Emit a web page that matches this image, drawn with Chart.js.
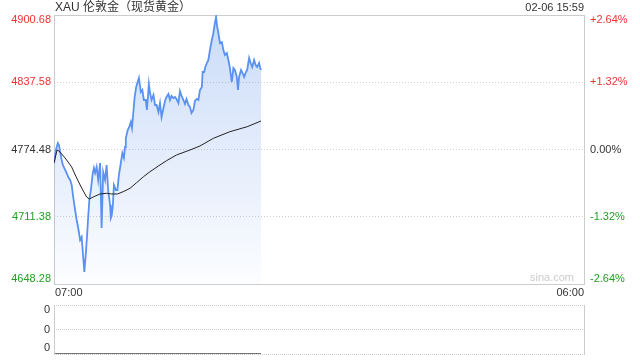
<!DOCTYPE html>
<html>
<head>
<meta charset="utf-8">
<script src="https://cdn.jsdelivr.net/npm/chart.js@4/dist/chart.umd.min.js"></script>
<style>
  html, body { margin: 0; padding: 0; background: #fff; }
  #wrap { position: relative; width: 640px; height: 360px; overflow: hidden; }
  #main { position: absolute; left: 0; top: 0; }
  #vol { position: absolute; left: 0; top: 295px; }
</style>
</head>
<body>
<div id="wrap">
  <canvas id="main" width="640" height="300"></canvas>
  <canvas id="vol" width="640" height="65"></canvas>
</div>
<script>
const TITLE = "XAU 伦敦金（现货黄金）";
const STAMP = "02-06 15:59";
const PREV_CLOSE = 4774.48;
const Y_TICKS = [4648.28, 4711.38, 4774.48, 4837.58, 4900.68];
const PCT_LABELS = ["-2.64%", "-1.32%", "0.00%", "+1.32%", "+2.64%"];
const X_LABELS = ["07:00", "06:00"];
const SESSION_MIN = 1380; // 07:00 -> 06:00 next day

// minutes after 07:00
const PRICE_MIN = [0, 5, 10, 13, 16, 20, 23, 29, 34, 37, 42, 46, 50, 55, 59, 63, 68, 72, 76, 79,
  83, 87, 89, 92, 96, 101, 104, 107, 111, 115, 120, 124, 128, 133, 137, 141, 146, 148, 150, 153,
  156, 161, 165, 169, 174, 178, 182, 185, 187, 192, 196, 200, 203, 206, 210, 214, 217, 221, 226, 230,
  234, 239, 242, 247, 250, 254, 259, 263, 267, 272, 276, 280, 285, 289, 293, 298, 302, 306, 311, 315,
  319, 324, 328, 332, 337, 341, 345, 350, 354, 358, 363, 367, 372, 376, 380, 385, 387, 391, 394, 398,
  402, 406, 411, 415, 419, 422, 425, 428, 432, 437, 441, 445, 450, 454, 458, 461, 463, 467, 471, 476,
  479, 482, 487, 491, 495, 500, 503, 508, 512, 516, 521, 525, 529, 534, 537, 539];
const PRICES = [4761.81, 4774.01, 4780.58, 4778.70, 4772.13, 4764.63, 4759.94, 4755.25, 4751.49, 4748.68,
  4745.86, 4741.17, 4729.91, 4717.71, 4708.33, 4700.82, 4689.56, 4692.38, 4673.61, 4659.54,
  4677.37, 4698.95, 4711.15, 4727.10, 4736.48, 4752.43, 4757.12, 4752.43, 4758.06, 4745.86,
  4761.81, 4700.82, 4753.37, 4745.86, 4759.94, 4736.48, 4722.41, 4710.21, 4712.08, 4720.53,
  4741.17, 4736.48, 4736.48, 4750.55, 4761.81, 4771.20, 4766.50, 4776.83, 4785.27, 4792.78,
  4795.59, 4800.28, 4794.65, 4806.85, 4823.74, 4833.12, 4836.88, 4841.57, 4828.43, 4830.31,
  4820.93, 4820.93, 4811.54, 4835.94, 4827.49, 4820.93, 4825.62, 4816.23, 4816.23, 4809.67,
  4818.11, 4804.97, 4813.42, 4819.99, 4823.74, 4826.56, 4820.93, 4824.68, 4822.80, 4823.74,
  4821.86, 4818.11, 4829.37, 4824.68, 4820.93, 4817.17, 4821.86, 4816.23, 4814.36, 4808.73,
  4811.54, 4819.99, 4821.86, 4820.93, 4830.31, 4833.12, 4847.20, 4847.20, 4851.89, 4855.64,
  4858.46, 4867.84, 4877.22, 4883.79, 4893.17, 4898.80, 4889.42, 4883.79, 4874.41, 4875.35,
  4867.84, 4863.15, 4865.02, 4858.46, 4850.95, 4842.51, 4837.81, 4850.95, 4849.07, 4842.51,
  4830.31, 4842.51, 4849.07, 4846.26, 4842.51, 4847.20, 4849.07, 4860.33, 4855.64, 4851.89,
  4858.46, 4853.77, 4851.89, 4855.64, 4850.95, 4849.07];

const AVG_MIN = [0, 8, 13, 29, 46, 59, 72, 85, 92, 102, 120, 137, 150, 165, 180, 198, 215, 233,
  250, 272, 293, 319, 354, 380, 415, 458, 503, 539];
const AVG_PRICES = [4761.81, 4774.01, 4773.07, 4766.50, 4758.06, 4747.74, 4738.36, 4729.91, 4728.03,
  4729.91, 4732.73, 4733.38, 4732.73, 4732.73, 4734.88, 4738.07, 4743.33, 4748.96, 4753.65,
  4759.00, 4763.97, 4769.32, 4774.01, 4777.76, 4784.99, 4791.18, 4795.87, 4801.22];

const VOL_MIN = [0, 539];
const VOLUMES = [0, 0];
const VOL_TICKS = [0, 1, 2];

const RED = "#ee3333";
const GREEN = "#22a022";
const FONT = "'Liberation Sans', Arial, 'Noto Sans CJK SC', sans-serif";

function toPoints(xs, ys) {
  return xs.map((m, i) => ({ x: m, y: ys[i] }));
}

// frame, axis labels and header text
const mainDecor = {
  id: "mainDecor",
  beforeDatasetsDraw(chart) {
    const { ctx, chartArea: a } = chart;
    ctx.save();
    ctx.strokeStyle = "#cccccc";
    ctx.lineWidth = 1;
    ctx.strokeRect(a.left + 0.5, a.top + 0.5, a.right - a.left, a.bottom - a.top);
    ctx.restore();
  },
  afterDraw(chart) {
    const { ctx, chartArea: a, scales } = chart;
    ctx.save();
    ctx.font = "11px " + FONT;
    ctx.textBaseline = "middle";
    Y_TICKS.forEach((v, i) => {
      let py = scales.y.getPixelForValue(v);
      if (i === Y_TICKS.length - 1) py += 5;
      if (i === 0) py -= 5;
      ctx.fillStyle = v > PREV_CLOSE ? RED : v < PREV_CLOSE ? GREEN : "#333";
      ctx.textAlign = "right";
      ctx.fillText(v.toFixed(2), a.left - 3, py);
      ctx.textAlign = "left";
      ctx.fillText(PCT_LABELS[i], a.right + 6, py);
    });

    ctx.fillStyle = "#333";
    ctx.textAlign = "left";
    ctx.fillText(X_LABELS[0], scales.x.getPixelForValue(0) + 1, a.bottom + 9);
    ctx.textAlign = "right";
    ctx.fillText(X_LABELS[1], scales.x.getPixelForValue(SESSION_MIN), a.bottom + 9);
    ctx.fillText(STAMP, a.right, 8);

    ctx.fillStyle = "#cccccc";
    ctx.fillText("sina.com", a.right - 10, a.bottom - 6);

    ctx.fillStyle = "#333";
    ctx.textAlign = "left";
    ctx.font = "12px " + FONT;
    ctx.fillText(TITLE, a.left + 1, 8);
    ctx.restore();
  }
};

new Chart(document.getElementById("main"), {
  type: "line",
  data: {
    datasets: [
      {
        label: "avg",
        data: toPoints(AVG_MIN, AVG_PRICES),
        borderColor: "#222",
        borderWidth: 1,
        pointRadius: 0,
        fill: false,
        order: 0
      },
      {
        label: "price",
        data: toPoints(PRICE_MIN, PRICES),
        borderColor: "#5a92f2",
        borderWidth: 1.8,
        pointRadius: 0,
        fill: "start",
        backgroundColor: (c) => {
          const a = c.chart.chartArea;
          if (!a) return "rgba(100,150,235,0.2)";
          const g = c.chart.ctx.createLinearGradient(0, a.top, 0, a.bottom);
          g.addColorStop(0, "rgba(100,150,235,0.34)");
          g.addColorStop(1, "rgba(100,150,235,0.02)");
          return g;
        },
        order: 1
      }
    ]
  },
  options: {
    responsive: false,
    animation: false,
    layout: { padding: { left: 54, right: 56, top: 15, bottom: 16 } },
    plugins: { legend: { display: false }, tooltip: { enabled: false } },
    scales: {
      x: { type: "linear", min: 0, max: SESSION_MIN, display: false },
      y: {
        min: Y_TICKS[0],
        max: Y_TICKS[Y_TICKS.length - 1],
        afterBuildTicks: (s) => { s.ticks = Y_TICKS.map((v) => ({ value: v })); },
        ticks: { display: false },
        grid: { color: "#cfcfcf", drawTicks: false },
        border: { display: false, dash: [1, 2] }
      }
    }
  },
  plugins: [mainDecor]
});

// volume panel
const volDecor = {
  id: "volDecor",
  afterDraw(chart) {
    const { ctx, chartArea: a, scales } = chart;
    ctx.save();
    ctx.strokeStyle = "#cccccc";
    ctx.lineWidth = 1;
    ctx.beginPath();
    ctx.moveTo(a.left + 0.5, a.top);
    ctx.lineTo(a.left + 0.5, a.bottom + 1);
    ctx.moveTo(a.right + 0.5, a.top);
    ctx.lineTo(a.right + 0.5, a.bottom + 1);
    ctx.stroke();
    ctx.font = "11px " + FONT;
    ctx.fillStyle = "#333";
    ctx.textAlign = "right";
    ctx.textBaseline = "middle";
    VOL_TICKS.forEach((v, i) => {
      let py = scales.y.getPixelForValue(v);
      if (i === 0) py -= 6;
      if (i === VOL_TICKS.length - 1) py += 5;
      ctx.fillText("0", a.left - 4, py);
    });
    ctx.restore();
  }
};

new Chart(document.getElementById("vol"), {
  type: "line",
  data: {
    datasets: [{
      data: toPoints(VOL_MIN, VOLUMES),
      borderColor: "#444",
      borderWidth: 1.5,
      pointRadius: 0,
      fill: false
    }]
  },
  options: {
    responsive: false,
    animation: false,
    layout: { padding: { left: 54, right: 56, top: 10, bottom: 6 } },
    plugins: { legend: { display: false }, tooltip: { enabled: false } },
    scales: {
      x: { type: "linear", min: 0, max: SESSION_MIN, display: false },
      y: {
        min: 0,
        max: 2,
        afterBuildTicks: (s) => { s.ticks = VOL_TICKS.map((v) => ({ value: v })); },
        ticks: { display: false },
        grid: { color: "#c8c8c8", drawTicks: false },
        border: { display: false, dash: [1, 1] }
      }
    }
  },
  plugins: [volDecor]
});
</script>
</body>
</html>
